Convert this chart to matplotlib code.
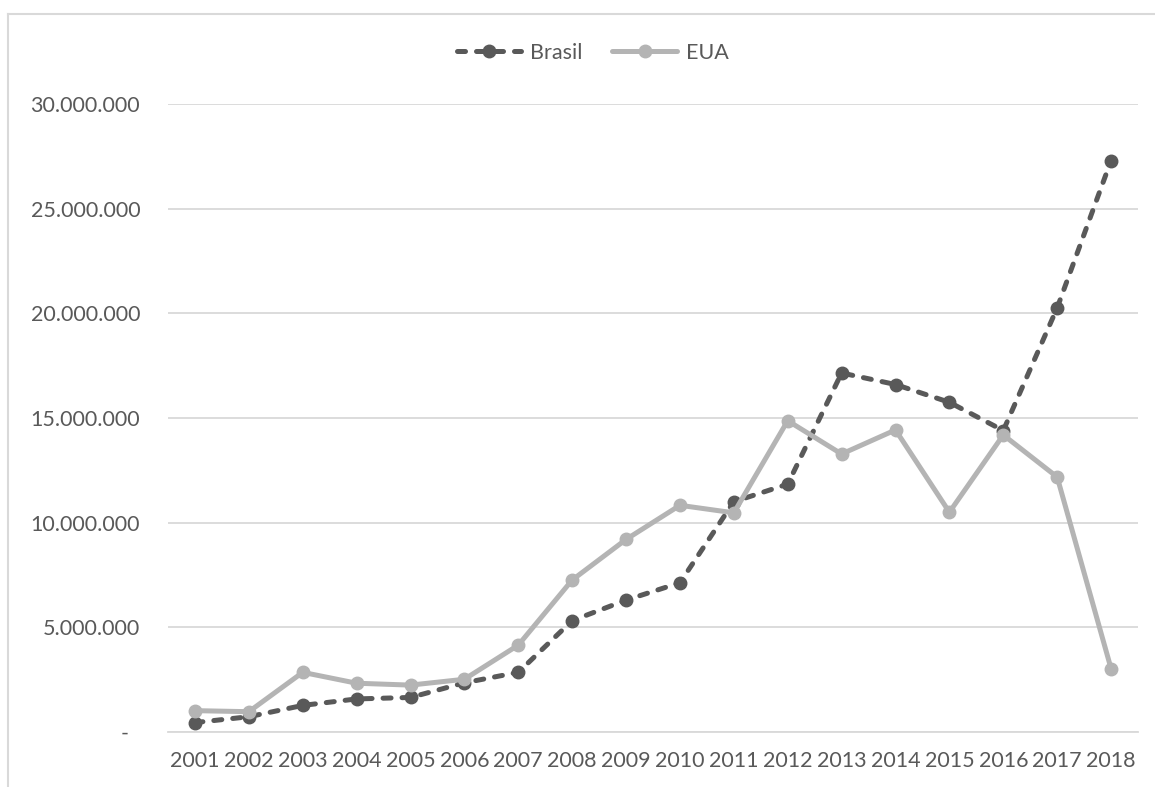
import matplotlib.pyplot as plt
from matplotlib.lines import Line2D
from matplotlib.ticker import FuncFormatter

# Annual values per country
anos = ['2001', '2002', '2003', '2004', '2005', '2006', '2007', '2008', '2009',
        '2010', '2011', '2012', '2013', '2014', '2015', '2016', '2017', '2018']
brasil = [450000, 730000, 1270000, 1580000, 1650000, 2350000, 2850000, 5320000, 6300000,
          7130000, 11000000, 11840000, 17150000, 16600000, 15750000, 14400000, 20260000, 27300000]
eua = [1020000, 970000, 2850000, 2330000, 2240000, 2520000, 4150000, 7260000, 9200000,
       10830000, 10470000, 14870000, 13280000, 14430000, 10500000, 14190000, 12180000, 3030000]
y_ticks = [0, 5000000, 10000000, 15000000, 20000000, 25000000, 30000000]

text_color = '#595959'
grid_color = '#D9D9D9'

plt.rcParams['font.family'] = ['Lato', 'DejaVu Sans']
plt.rcParams['font.size'] = 15.5

fig = plt.figure(figsize=(11.55, 7.87), dpi=100)
ax = fig.add_axes([168 / 1155, 1 - 732 / 787, 970 / 1155, 628 / 787])

x = range(len(anos))

# Brasil: dark dashed line, EUA: light solid line drawn on top
ax.plot(x, brasil, color='#595959', linewidth=3.6, linestyle=(0, (1.6, 2.2)),
        dash_capstyle='round', marker='o', markersize=9, label='Brasil')
ax.plot(x, eua, color='#B4B4B4', linewidth=3.6, solid_capstyle='round',
        marker='o', markersize=9, label='EUA')

ax.set_xlim(-0.5, len(anos) - 0.5)
ax.set_ylim(0, 30000000)
ax.set_xticks(list(x))
ax.set_xticklabels(anos)
ax.set_yticks(y_ticks)


def fmt_pt(v, pos):
    if v == 0:
        return '-  '
    return f'{int(v):,}'.replace(',', '.')


ax.yaxis.set_major_formatter(FuncFormatter(fmt_pt))

ax.grid(axis='y', color=grid_color, linewidth=1.3)
ax.set_axisbelow(True)
for side in ['top', 'right', 'left']:
    ax.spines[side].set_visible(False)
ax.spines['bottom'].set_color(grid_color)
ax.spines['bottom'].set_linewidth(1.3)
ax.tick_params(axis='y', length=0, pad=20, colors=text_color)
ax.tick_params(axis='x', length=0, pad=14, colors=text_color)

leg = fig.legend(loc='center', bbox_to_anchor=(0.513, 1 - 53 / 787), ncol=2, frameon=False,
                 handlelength=3.0, handletextpad=0.4, columnspacing=1.4)
for t in leg.get_texts():
    t.set_color(text_color)

# chart frame (left and top edges)
fig.add_artist(Line2D([8 / 1155, 8 / 1155], [0, 1 - 14 / 787], color=grid_color, linewidth=1.5))
fig.add_artist(Line2D([8 / 1155, 1], [1 - 14 / 787, 1 - 14 / 787], color=grid_color, linewidth=1.5))

plt.savefig('out.png', dpi=100)
plt.close()
